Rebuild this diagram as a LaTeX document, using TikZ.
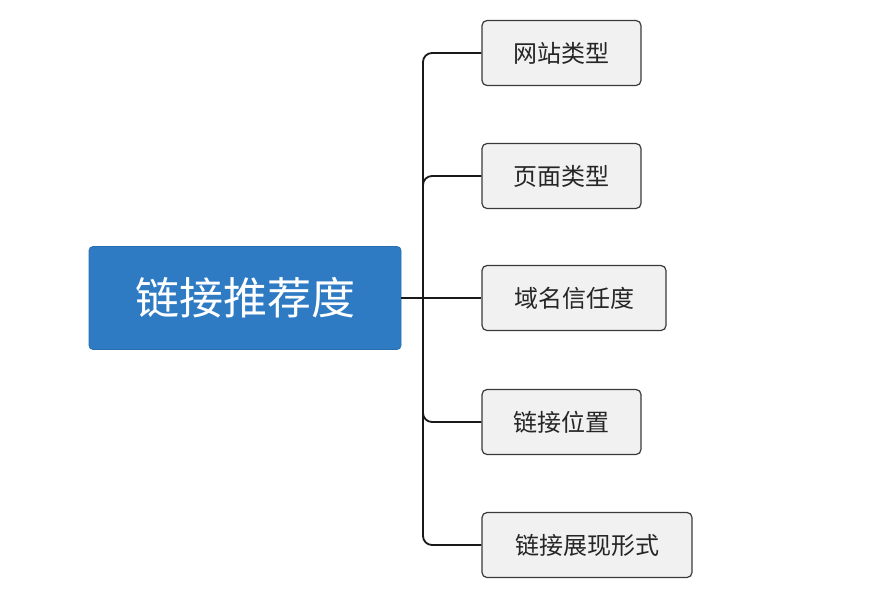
\documentclass[tikz,border=0pt]{standalone}
\usepackage{fontspec}
\newfontfamily\cjk{Noto Sans CJK SC}
\definecolor{rootblue}{HTML}{2E7BC4}
\definecolor{childfill}{HTML}{F1F1F1}
\definecolor{childline}{HTML}{3A3A3A}
\begin{document}
\begin{tikzpicture}[x=1pt,y=-1pt,
  rootbox/.style={draw=rootblue!90!black,line width=0.8pt,fill=rootblue,rounded corners=4pt,minimum width=312pt,minimum height=103pt,inner sep=0pt,font=\cjk\fontsize{44}{50}\selectfont,text=white},
  childbox/.style={draw=childline,line width=1.2pt,fill=childfill,rounded corners=5pt,minimum height=65pt,inner sep=0pt,font=\cjk\fontsize{24}{28}\selectfont,text=black!85},
  link/.style={line width=1.8pt,draw=black!90,rounded corners=9pt}]
\useasboundingbox (0,0) rectangle (876,606);
\fill[white] (0,0) rectangle (876,606);
\node[rootbox] (root) at (245,298) {链接推荐度};
\node[childbox,minimum width=159pt] (c1) at (561.5,53) {网站类型};
\node[childbox,minimum width=159pt] (c2) at (561.5,176) {页面类型};
\node[childbox,minimum width=184pt] (c3) at (574,298) {域名信任度};
\node[childbox,minimum width=159pt] (c4) at (561.5,422) {链接位置};
\node[childbox,minimum width=210pt] (c5) at (587,545) {链接展现形式};
\coordinate (j) at (423,298);
\draw[line width=2pt,black!90] (root.east) -- (c3.west);
\draw[link] (j) |- (c1.west);
\draw[link] (j) |- (c2.west);
\draw[link] (j) |- (c4.west);
\draw[link] (j) |- (c5.west);
\end{tikzpicture}
\end{document}
